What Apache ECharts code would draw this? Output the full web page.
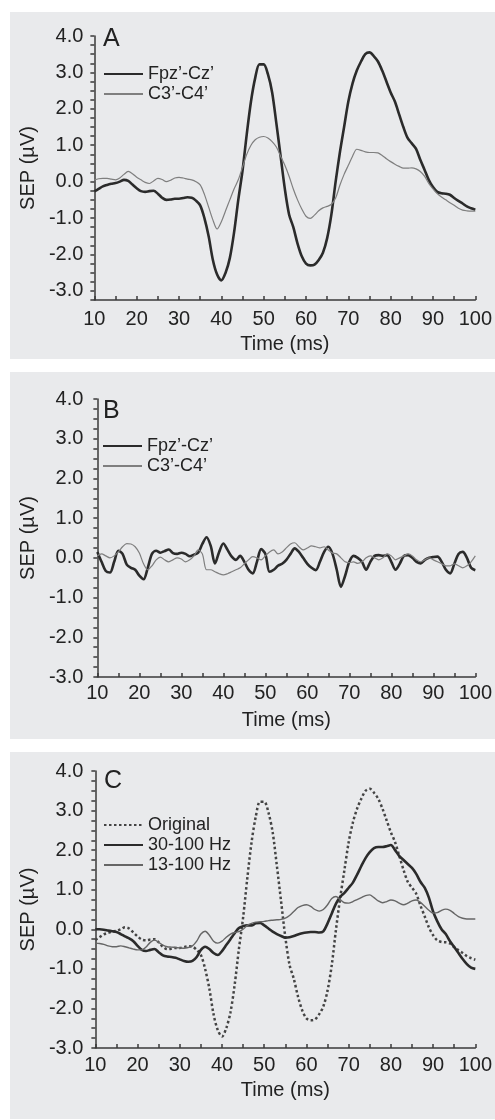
<!DOCTYPE html>
<html>
<head>
<meta charset="utf-8">
<title>SEP</title>
<script src="https://cdn.jsdelivr.net/npm/echarts@6/dist/echarts.min.js"></script>
<style>
body { margin: 0; background: #fff; width: 495px; height: 1120px; position: relative; overflow: hidden; }
.panel { position: absolute; left: 10px; width: 485px; }
#mainA { top: 12px; height: 347px; }
#mainB { top: 372px; height: 367px; }
#mainC { top: 752px; height: 367px; }
</style>
</head>
<body>
<div id="mainA" class="panel"></div>
<div id="mainB" class="panel"></div>
<div id="mainC" class="panel"></div>
<script>
// time axis (ms), one sample per ms
var time = [10, 11, 12, 13, 14, 15, 16, 17, 18, 19, 20, 21, 22, 23, 24, 25, 26, 27, 28, 29,
  30, 31, 32, 33, 34, 35, 36, 37, 38, 39, 40, 41, 42, 43, 44, 45, 46, 47, 48, 49,
  50, 51, 52, 53, 54, 55, 56, 57, 58, 59, 60, 61, 62, 63, 64, 65, 66, 67, 68, 69,
  70, 71, 72, 73, 74, 75, 76, 77, 78, 79, 80, 81, 82, 83, 84, 85, 86, 87, 88, 89,
  90, 91, 92, 93, 94, 95, 96, 97, 98, 99, 100]

// A: Fpz'-Cz'
var fpzA = [-0.27, -0.2, -0.13, -0.09, -0.06, -0.04, 0.0, 0.05, 0.02, -0.08,
  -0.18, -0.26, -0.28, -0.26, -0.25, -0.33, -0.44, -0.5, -0.49, -0.47,
  -0.47, -0.45, -0.43, -0.44, -0.52, -0.65, -1.0, -1.5, -2.15, -2.55,
  -2.71, -2.5, -2.1, -1.4, -0.5, 0.3, 1.3, 2.2, 2.85, 3.22,
  3.22, 2.95, 2.45, 1.6, 0.7, -0.2, -0.9, -1.25, -1.7, -2.05,
  -2.25, -2.3, -2.28, -2.15, -1.95, -1.55, -0.9, 0.0, 0.8, 1.5,
  2.2, 2.7, 3.05, 3.3, 3.5, 3.55, 3.45, 3.3, 3.05, 2.75,
  2.45, 2.2, 1.85, 1.5, 1.2, 1.05, 0.9, 0.6, 0.33, 0.05,
  -0.15, -0.28, -0.32, -0.33, -0.36, -0.45, -0.53, -0.6, -0.68, -0.73, -0.77]
// A: C3'-C4'
var c3A = [0.05, 0.08, 0.09, 0.09, 0.07, 0.05, 0.1, 0.2, 0.28, 0.22,
  0.12, 0.05, -0.02, -0.05, 0.02, 0.09, 0.06, 0.0, 0.04, 0.1,
  0.12, 0.1, 0.07, 0.05, 0.0, -0.09, -0.35, -0.7, -1.05, -1.3,
  -1.1, -0.8, -0.5, -0.2, 0.05, 0.4, 0.75, 1.0, 1.15, 1.22,
  1.24, 1.2, 1.1, 0.95, 0.7, 0.45, 0.15, -0.2, -0.5, -0.75,
  -0.95, -1.01, -0.92, -0.8, -0.72, -0.68, -0.62, -0.45, -0.1, 0.2,
  0.45, 0.7, 0.89, 0.86, 0.82, 0.8, 0.8, 0.79, 0.72, 0.63,
  0.55, 0.48, 0.42, 0.37, 0.37, 0.38, 0.35, 0.28, 0.15, -0.05,
  -0.2, -0.33, -0.42, -0.5, -0.58, -0.65, -0.73, -0.78, -0.8, -0.81, -0.81]

// B: Fpz'-Cz'
var fpzB = [0.15, -0.1, -0.33, -0.37, -0.1, 0.18, 0.1, -0.17, -0.25, -0.3,
  -0.45, -0.54, -0.25, 0.1, 0.18, 0.13, 0.17, 0.21, 0.12, 0.1,
  0.13, 0.1, 0.04, 0.08, 0.13, 0.35, 0.52, 0.3, -0.14, 0.15,
  0.36, 0.2, 0.03, -0.05, 0.05, -0.1, -0.3, -0.39, -0.1, 0.22,
  0.1, -0.35, -0.3, -0.2, -0.15, -0.05, 0.1, 0.24, 0.15, 0.0,
  -0.15, -0.25, -0.31, -0.1, 0.15, 0.28, 0.1, -0.3, -0.73, -0.45,
  -0.1, 0.05, 0.0, -0.1, -0.3, -0.1, 0.05, 0.07, 0.05, 0.07,
  -0.1, -0.3, -0.15, 0.05, 0.07, 0.0, -0.1, -0.14, -0.05, 0.0,
  0.02, 0.03, -0.1, -0.3, -0.39, -0.15, 0.1, 0.15, 0.0, -0.25, -0.31]
// B: C3'-C4'
var c3B = [0.05, 0.1, 0.05, 0.0, 0.05, 0.15, 0.28, 0.36, 0.35, 0.28,
  0.12, -0.15, -0.3, -0.2, -0.05, 0.02, -0.05, -0.1, -0.05, 0.0,
  -0.03, -0.1, -0.05, 0.05, 0.2, 0.1, -0.3, -0.3, -0.35, -0.4,
  -0.43, -0.4, -0.35, -0.3, -0.25, -0.15, -0.05, 0.03, 0.0, -0.05,
  0.05, 0.15, 0.2, 0.1, 0.15, 0.25, 0.35, 0.38, 0.28, 0.2,
  0.25, 0.3, 0.28, 0.25, 0.28, 0.2, 0.12, 0.1, 0.0, -0.1,
  -0.12, -0.1, -0.14, -0.1, 0.0, 0.05, 0.0, -0.05, 0.0, 0.1,
  0.05, -0.05, 0.0, 0.05, 0.1, 0.05, -0.05, -0.1, -0.05, 0.0,
  -0.05, -0.1, -0.15, -0.2, -0.2, -0.15, -0.2, -0.25, -0.2, -0.1, 0.05]

// C: original = A Fpz'-Cz', plus two filtered versions
var band30 = [0.0, 0.0, -0.01, -0.03, -0.05, -0.07, -0.12, -0.18, -0.23, -0.3,
  -0.42, -0.52, -0.55, -0.52, -0.5, -0.58, -0.66, -0.69, -0.7, -0.72,
  -0.76, -0.8, -0.82, -0.8, -0.7, -0.52, -0.44, -0.5, -0.6, -0.65,
  -0.55, -0.4, -0.25, -0.1, 0.03, 0.08, 0.1, 0.1, 0.15, 0.16,
  0.1, 0.02, -0.06, -0.12, -0.17, -0.21, -0.2, -0.17, -0.13, -0.1,
  -0.08, -0.07, -0.07, -0.08, -0.05, 0.15, 0.4, 0.65, 0.82, 0.92,
  1.05, 1.18, 1.38, 1.6, 1.8, 1.95, 2.05, 2.08, 2.08, 2.1,
  2.13, 2.0, 1.85, 1.75, 1.65, 1.55, 1.4, 1.2, 1.05, 0.8,
  0.45, 0.2, 0.0, -0.12, -0.3, -0.45, -0.6, -0.75, -0.88, -0.97, -1.0]
var band13 = [-0.35, -0.36, -0.38, -0.42, -0.44, -0.44, -0.42, -0.44, -0.47, -0.5,
  -0.52, -0.52, -0.45, -0.33, -0.27, -0.33, -0.4, -0.44, -0.45, -0.46,
  -0.47, -0.48, -0.46, -0.42, -0.3, -0.12, -0.05, -0.15, -0.3, -0.35,
  -0.3, -0.2, -0.12, -0.08, -0.06, 0.0, 0.1, 0.15, 0.18, 0.19,
  0.2, 0.22, 0.23, 0.24, 0.25, 0.28, 0.35, 0.45, 0.55, 0.6,
  0.62, 0.58, 0.5, 0.46, 0.5, 0.62, 0.78, 0.83, 0.75, 0.67,
  0.66, 0.7, 0.75, 0.8, 0.85, 0.87, 0.8, 0.72, 0.67, 0.7,
  0.74, 0.72, 0.66, 0.62, 0.66, 0.72, 0.74, 0.68, 0.58, 0.48,
  0.41, 0.42, 0.48, 0.51, 0.48, 0.4, 0.32, 0.28, 0.26, 0.26, 0.26]

var font = 'Liberation Sans, Arial, Helvetica, sans-serif'

function pairs (vals) {
  return time.map(function (t, i) { return [t, vals[i]] })
}

function lineSeries (name, vals, color, width, type) {
  return {
    name: name,
    type: 'line',
    data: pairs(vals),
    symbol: 'none',
    smooth: 0.3,
    lineStyle: { color: color, width: width, type: type || 'solid' },
    itemStyle: { color: color }
  }
}

// one panel: p holds the layout numbers
function draw (el, p, series) {
  var chart = echarts.init(document.getElementById(el))
  chart.setOption({
    backgroundColor: '#e9eaec',
    animation: false,
    textStyle: { fontFamily: font },
    grid: { left: p.left, right: p.right, top: p.top, bottom: p.bottom },
    graphic: [{
      type: 'text',
      left: p.letterX,
      top: p.letterY,
      style: { text: p.letter, font: '25px ' + font, fill: '#222' }
    }],
    legend: {
      orient: 'vertical',
      left: p.legendX,
      top: p.legendY,
      padding: 0,
      itemGap: 2,
      itemWidth: 39,
      itemHeight: 14,
      // hide the symbol dot, keep only the line
      itemStyle: { opacity: 0 },
      textStyle: { fontSize: 18, color: '#222', fontFamily: font }
    },
    xAxis: {
      type: 'value',
      min: 10,
      max: 100,
      interval: 5,
      name: 'Time (ms)',
      nameLocation: 'middle',
      nameGap: p.xNameGap,
      nameTextStyle: { fontSize: 20, color: '#222', fontFamily: font },
      axisLine: { onZero: false, lineStyle: { color: '#3a3a3a', width: 1.5 } },
      axisTick: { inside: true, length: 4, lineStyle: { color: '#3a3a3a', width: 1.5 } },
      axisLabel: {
        fontSize: 20,
        color: '#222',
        margin: p.xLabelMargin,
        formatter: function (v) { return v % 10 === 0 ? String(v) : '' }
      },
      splitLine: { show: false }
    },
    yAxis: {
      type: 'value',
      min: p.yMin,
      max: 4,
      interval: 0.25,
      name: 'SEP (µV)',
      nameLocation: 'middle',
      nameGap: p.yNameGap,
      nameTextStyle: { fontSize: 20, color: '#222', fontFamily: font },
      axisLine: { show: true, lineStyle: { color: '#3a3a3a', width: 1.5 } },
      axisTick: { show: true, length: 4, lineStyle: { color: '#3a3a3a', width: 1.5 } },
      axisLabel: {
        fontSize: 20,
        color: '#222',
        margin: p.yLabelMargin,
        formatter: function (v) { return Number.isInteger(v) ? v.toFixed(1) : '' }
      },
      splitLine: { show: false }
    },
    series: series
  })
}

draw('mainA', {
  left: 77, right: 14, top: 24, bottom: 55, yMin: -3.25,
  letter: 'A', letterX: 93, letterY: 15,
  legendX: 93, legendY: 53,
  xNameGap: 34, xLabelMargin: 9, yNameGap: 47, yLabelMargin: 11
}, [
  lineSeries('Fpz’-Cz’', fpzA, '#2b2b2b', 2.6),
  lineSeries('C3’-C4’', c3A, '#7f7f7f', 1.2)
])

draw('mainB', {
  left: 80, right: 9, top: 27, bottom: 62, yMin: -3,
  letter: 'B', letterX: 93, letterY: 27,
  legendX: 92, legendY: 65,
  xNameGap: 33, xLabelMargin: 6, yNameGap: 53, yLabelMargin: 14
}, [
  lineSeries('Fpz’-Cz’', fpzB, '#2b2b2b', 2.6),
  lineSeries('C3’-C4’', c3B, '#7f7f7f', 1.2)
])

draw('mainC', {
  left: 78, right: 10, top: 19, bottom: 71, yMin: -3,
  letter: 'C', letterX: 94, letterY: 17,
  legendX: 93, legendY: 64,
  xNameGap: 32, xLabelMargin: 7, yNameGap: 50, yLabelMargin: 12
}, [
  lineSeries('Original', fpzA, '#444', 2.5, [2.5, 2.5]),
  lineSeries('30-100 Hz', band30, '#2b2b2b', 2.6),
  lineSeries('13-100 Hz', band13, '#666', 1.4)
])
</script>
</body>
</html>
